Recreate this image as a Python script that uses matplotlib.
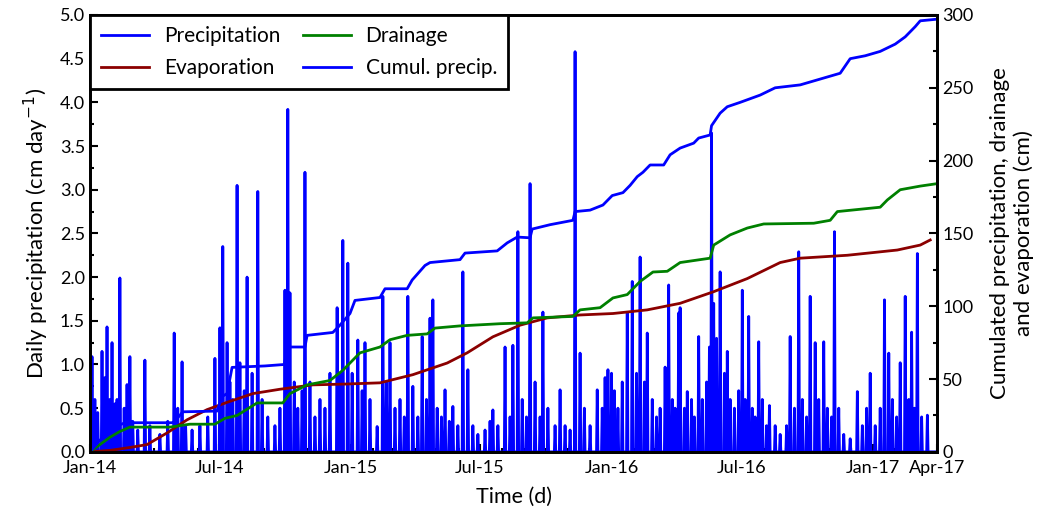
import numpy as np
import pandas as pd
import matplotlib
matplotlib.use('Agg')
import matplotlib.pyplot as plt
import matplotlib.dates as mdates
from matplotlib.ticker import MultipleLocator

plt.rcParams['font.family'] = ['Lato', 'DejaVu Sans']

start = pd.Timestamp('2014-01-01')

# daily precipitation events (day since 2014-01-01, cm/day), zero on other days
rainDay = [3, 7, 11, 17, 21, 24, 28, 31, 35, 38, 42, 48, 52, 56, 60, 67, 77, 84, 98, 109,
           118, 123, 129, 134, 143, 154, 165, 175, 182, 186, 192, 196, 200, 206, 210, 216,
           220, 227, 235, 241, 249, 259, 266, 273, 277, 280, 286, 291, 297, 301, 308, 315,
           322, 329, 336, 346, 350, 354, 361, 367, 375, 381, 385, 392, 402, 410, 415, 420,
           427, 434, 440, 445, 452, 459, 465, 471, 476, 480, 486, 492, 497, 503, 508, 515,
           522, 529, 536, 543, 553, 560, 564, 571, 581, 588, 592, 599, 605, 611, 616, 623,
           630, 634, 641, 651, 658, 665, 672, 679, 686, 692, 700, 710, 717, 721, 725, 730,
           734, 739, 745, 752, 759, 765, 770, 776, 780, 787, 793, 798, 805, 810, 815, 819,
           824, 826, 832, 836, 842, 846, 852, 857, 863, 867, 870, 873, 877, 882, 888, 892,
           896, 902, 908, 913, 917, 922, 927, 931, 936, 941, 947, 951, 959, 966, 975, 980,
           986, 992, 997, 1003, 1008, 1015, 1020, 1027, 1032, 1038, 1042, 1048, 1055, 1064,
           1074, 1081, 1087, 1092, 1099, 1106, 1112, 1118, 1123, 1129, 1134, 1141, 1146,
           1150, 1154, 1158, 1164, 1172]
rainVal = [1.09, 0.6, 0.45, 1.15, 0.85, 1.43, 0.6, 1.25, 0.55, 0.6, 1.99, 0.5, 0.77, 1.09,
           0.35, 0.25, 1.05, 0.3, 0.2, 0.35, 1.36, 0.5, 1.03, 0.3, 0.25, 0.3, 0.4, 1.07,
           1.42, 2.35, 1.25, 0.8, 0.6, 3.05, 1.02, 0.7, 2.0, 0.9, 2.98, 0.6, 0.4, 0.3, 0.5,
           1.85, 3.92, 1.82, 0.8, 0.5, 0.7, 3.2, 0.8, 0.4, 0.6, 0.5, 0.9, 1.65, 0.9, 2.42,
           2.16, 0.9, 1.28, 0.7, 1.25, 0.6, 0.29, 1.78, 0.8, 1.25, 0.5, 0.6, 0.4, 1.78, 0.75,
           0.4, 1.32, 0.6, 1.53, 1.74, 0.5, 0.4, 0.71, 0.35, 0.52, 0.3, 2.06, 0.94, 0.3, 0.2,
           0.25, 0.35, 0.48, 0.3, 1.2, 0.4, 1.22, 2.52, 0.6, 0.4, 3.07, 0.8, 0.4, 1.6, 0.5,
           0.3, 0.71, 0.3, 0.25, 4.58, 1.13, 0.5, 0.3, 0.71, 0.5, 0.85, 0.94, 0.9, 0.7, 0.5,
           0.8, 1.59, 1.95, 0.9, 2.23, 0.8, 1.36, 0.6, 0.4, 0.5, 0.97, 1.91, 0.6, 0.5, 1.59,
           1.65, 0.5, 0.69, 0.6, 0.4, 1.32, 0.6, 0.8, 1.2, 3.65, 1.7, 1.3, 2.06, 0.9, 1.15,
           0.6, 0.5, 0.7, 1.85, 0.6, 1.55, 0.5, 0.4, 1.26, 0.6, 0.3, 0.53, 0.3, 0.2, 0.3,
           1.32, 0.5, 2.29, 0.6, 0.4, 1.78, 1.25, 0.6, 1.26, 0.5, 0.4, 2.52, 0.5, 0.2, 0.15,
           0.69, 0.3, 0.5, 0.9, 0.3, 0.5, 1.74, 1.13, 0.6, 0.4, 1.02, 1.78, 0.6, 1.37, 0.5,
           2.27, 0.4, 0.42]

# cumulated values (cm) read at a few days
cumPrecDay = [0, 14, 35, 49, 115, 119, 130, 178, 185, 192, 199, 245, 272, 277, 301, 304, 340,
              350, 364, 371, 406, 413, 444, 451, 469, 476, 518, 525, 570, 584, 598, 616, 619,
              644, 676, 679, 700, 718, 731, 746, 756, 766, 774, 784, 803, 812, 826, 845, 852,
              868, 870, 882, 892, 910, 938, 959, 994, 1015, 1050, 1064, 1085, 1106, 1127,
              1141, 1155, 1162, 1183]
cumPrecVal = [0, 8, 17, 20, 20, 21, 27.5, 28, 38, 40, 58, 59, 60, 72, 72, 80, 82, 87, 95, 104,
              106, 112, 112, 118, 128, 130, 132, 136.5, 138, 143.5, 147.5, 147, 153, 156, 159,
              165, 166, 169.5, 176, 178, 183, 189, 192, 197, 197, 204, 208.6, 212, 215.5,
              217.6, 224, 232.6, 237, 240, 245, 250, 252, 255, 260, 270, 272, 275, 280, 285,
              292, 296, 297]

drainDay = [0, 14, 28, 42, 56, 112, 140, 175, 189, 206, 234, 270, 280, 304, 336, 354, 378,
            406, 420, 444, 472, 483, 518, 574, 612, 620, 676, 686, 714, 732, 752, 770, 788,
            808, 826, 868, 873, 896, 920, 943, 1013, 1036, 1046, 1106, 1116, 1134, 1162, 1183]
drainVal = [0, 5, 10, 14, 17, 17, 19, 19, 23, 25, 33.6, 33.6, 40, 46, 49, 56, 68, 72, 77, 80,
            81, 85, 86.5, 88, 88.6, 92, 93, 97.5, 99, 105.7, 108, 117, 123.5, 124, 130, 133,
            142, 149, 153.7, 156.5, 157, 159, 165, 168, 173, 180, 182.5, 184]

evapDay = [0, 28, 56, 80, 108, 136, 164, 192, 228, 266, 312, 360, 406, 452, 500, 528, 564,
           602, 640, 686, 732, 780, 826, 873, 920, 966, 994, 1060, 1130, 1162, 1176]
evapVal = [0, 1, 3, 5, 13, 22, 29, 34, 40, 43, 46, 46.6, 47.4, 53, 61, 68, 79, 87, 92, 94, 95,
           97.5, 102, 110, 119, 130, 133, 135, 138.6, 142, 145.5]

tickDates = ['2014-01-01', '2014-07-01', '2015-01-01', '2015-07-01', '2016-01-01',
             '2016-07-01', '2017-01-01', '2017-04-01']


def toDates(days):
    return start + pd.to_timedelta(days, unit='D')


days = pd.date_range('2014-01-01', '2017-03-29', freq='D')
precip = np.zeros(len(days))
precip[rainDay] = rainVal

fig = plt.figure(figsize=(10.45, 5.17), dpi=100)
ax1 = fig.add_axes([0.086, 0.126, 0.811, 0.845])
ax2 = ax1.twinx()

l1, = ax1.plot(days, precip, color='#0000ff', lw=2)
l2, = ax2.plot(toDates(evapDay), evapVal, color='#8b0000', lw=2)
l3, = ax2.plot(toDates(drainDay), drainVal, color='#008000', lw=2)
l4, = ax2.plot(toDates(cumPrecDay), cumPrecVal, color='#0000ff', lw=2)

ax1.set_xlim(pd.Timestamp('2014-01-01'), pd.Timestamp('2017-04-01'))
ax1.set_ylim(0, 5)
ax2.set_ylim(0, 300)

ax1.set_xticks(pd.to_datetime(tickDates))
ax1.xaxis.set_major_formatter(mdates.DateFormatter('%b-%y'))
ax1.xaxis.set_minor_locator(mdates.MonthLocator())
ax1.yaxis.set_major_locator(MultipleLocator(0.5))
ax1.yaxis.set_minor_locator(MultipleLocator(0.25))
ax1.yaxis.set_major_formatter('{x:.1f}')
ax2.yaxis.set_major_locator(MultipleLocator(50))
ax2.yaxis.set_minor_locator(MultipleLocator(25))

for ax in (ax1, ax2):
    ax.tick_params(which='major', direction='in', length=6, width=1.5, labelsize=13)
    ax.tick_params(which='minor', direction='in', length=3, width=1.5)
    for s in ax.spines.values():
        s.set_linewidth(2)
ax1.tick_params(axis='x', pad=6)

ax1.set_xlabel('Time (d)', fontsize=15.5, labelpad=8)
ax1.set_ylabel('Daily precipitation (cm day$^{-1}$)', fontsize=16, labelpad=6)
ax2.set_ylabel('Cumulated precipitation, drainage\nand evaporation (cm)', fontsize=16,
               ha='center', labelpad=12)

leg = ax2.legend([l1, l2, l3, l4], ['Precipitation', 'Evaporation', 'Drainage', 'Cumul. precip.'],
                 ncol=2, loc='upper left', borderaxespad=0, fancybox=False, fontsize=15,
                 handlelength=2.3, columnspacing=1.1, framealpha=1, edgecolor='black',
                 borderpad=0.55, labelspacing=0.55, handletextpad=0.7)
leg.get_frame().set_linewidth(2)

fig.savefig('out.png', dpi=100)
